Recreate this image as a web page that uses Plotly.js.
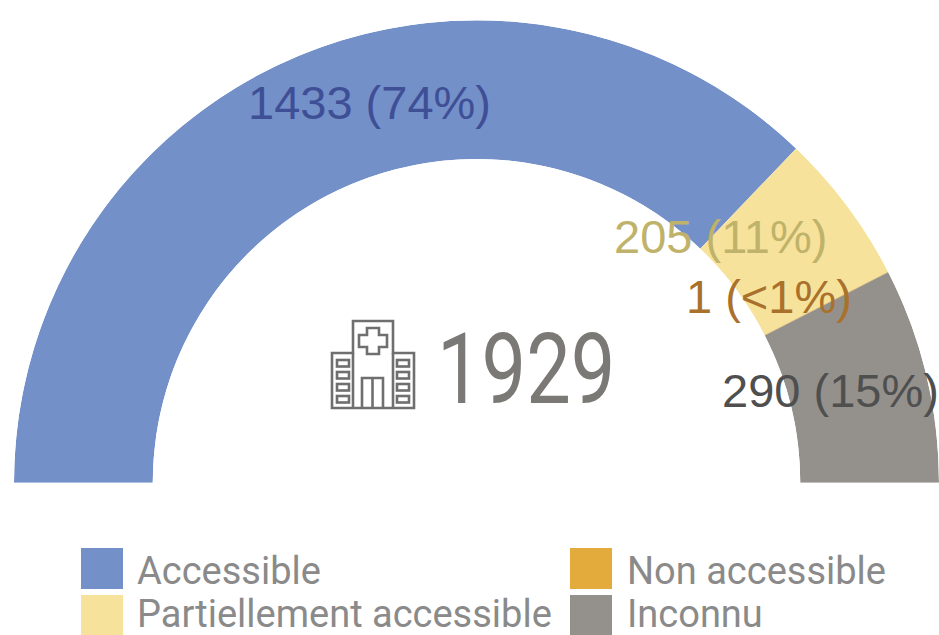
<!DOCTYPE html>
<html>
<head>
<meta charset="utf-8">
<script src="https://cdn.plot.ly/plotly-3.0.1.min.js"></script>
<style>html,body{margin:0;padding:0;background:#fff;overflow:hidden}</style>
</head>
<body>
<div id="chart" style="width:939px;height:635px"></div>
<script>
// Hospital accessibility, shown as a half-ring
const categories = ["Accessible", "Partiellement accessible", "Non accessible", "Inconnu"];
const counts = [1433, 205, 1, 290];
const shares = ["74%", "11%", "<1%", "15%"];
const sliceColors = ["#7490c9", "#f6e29b", "#e3ab3b", "#94918c"];
const labelColors = ["#3f4f96", "#bfb26a", "#a9712c", "#4f4f4f"];
const totalCount = 1929;

const W = 939, H = 635;
const px = x => x / W;
const py = y => 1 - y / H;

// Each category becomes one sector; sectors run clockwise from the left end of the half-ring
let used = 0;
const thetas = [], widths = [];
counts.forEach(c => {
  const w = c / totalCount * 180;
  thetas.push(180 - used - w / 2);
  widths.push(w);
  used += w;
});

const traces = categories.map((name, i) => ({
  type: "barpolar",
  name,
  r: [1],
  theta: [thetas[i]],
  width: [widths[i]],
  marker: {color: sliceColors[i], line: {width: 0}},
  hoverinfo: "skip",
  showlegend: false
}));

const labelSpots = [[247, 102], [613, 236], [685, 296], [721, 390]];
const labelNotes = categories.map((_, i) => ({
  xref: "paper", yref: "paper",
  x: px(labelSpots[i][0]), y: py(labelSpots[i][1]),
  xanchor: "left", yanchor: "middle", showarrow: false, borderpad: 0,
  text: counts[i] + " (" + shares[i].replace("<", "&lt;") + ")",
  font: {family: "Liberation Sans, Arial, sans-serif", size: 47, color: labelColors[i]}
}));

// Legend laid out in two columns
const legendSpots = [[81, 548, 136, 571], [81, 595, 136, 614], [570, 548, 626, 571], [570, 595, 626, 614]];
const legendNotes = categories.map((name, i) => ({
  xref: "paper", yref: "paper",
  x: px(legendSpots[i][2]), y: py(legendSpots[i][3]),
  xanchor: "left", yanchor: "middle", showarrow: false, borderpad: 0,
  text: name,
  font: {family: "Roboto, sans-serif", size: 38, color: "#8a8a8a"}
}));
const legendSwatches = categories.map((_, i) => ({
  type: "rect", xref: "paper", yref: "paper", line: {width: 0},
  fillcolor: sliceColors[i],
  x0: px(legendSpots[i][0]), x1: px(legendSpots[i][0] + 42),
  y0: py(legendSpots[i][1]), y1: py(legendSpots[i][1] + 41)
}));

// Hospital pictogram beside the total
const hospitalSvg =
  '<svg xmlns="http://www.w3.org/2000/svg" viewBox="330 318 86 92">' +
  '<g fill="none" stroke="#6f6f6f" stroke-width="2.6">' +
  '<path d="M332 408V353H353V321H393V353H414V408Z"/>' +
  '<path d="M353 353V408M393 353V408"/>' +
  '<path d="M362 408V378H383V408M372.5 378V408"/>' +
  '<path d="M367 328H379V335H387V347H379V354H367V347H359V335H367Z"/>' +
  [360, 372, 384, 396].map(y =>
    '<rect x="337" y="' + y + '" width="12" height="6.5"/>' +
    '<rect x="397" y="' + y + '" width="12" height="6.5"/>').join("") +
  '</g></svg>';

const layout = {
  width: W, height: H,
  margin: {l: 0, r: 0, t: 0, b: 0},
  paper_bgcolor: "#fff",
  showlegend: false,
  polar: {
    domain: {x: [px(14), 1], y: [py(483), py(20)]},
    sector: [0, 180],
    hole: 0.7,
    bgcolor: "rgba(0,0,0,0)",
    bargap: 0,
    radialaxis: {range: [0, 1], visible: false},
    angularaxis: {visible: false, direction: "counterclockwise", rotation: 0}
  },
  shapes: legendSwatches,
  images: [{
    source: "data:image/svg+xml;utf8," + encodeURIComponent(hospitalSvg),
    xref: "paper", yref: "paper",
    x: px(330), y: py(318), sizex: 86 / W, sizey: 92 / H,
    xanchor: "left", yanchor: "top", sizing: "stretch", layer: "above"
  }],
  annotations: labelNotes.concat(legendNotes, [{
    xref: "paper", yref: "paper",
    x: px(526), y: py(369), xanchor: "center", yanchor: "middle",
    showarrow: false, borderpad: 0,
    text: String(totalCount),
    font: {family: "Roboto, sans-serif", size: 98, color: "#7b7975"}
  }])
};

Plotly.newPlot("chart", traces, layout, {displayModeBar: false, staticPlot: true}).then(gd => {
  // The total is set in a condensed cut: narrow its digits around their own centre
  gd.querySelectorAll(".annotation-text").forEach(el => {
    if (el.textContent === String(totalCount)) {
      const b = el.getBBox();
      const cx = b.x + b.width / 2;
      el.setAttribute("transform", "translate(" + cx + " 0) scale(0.81 1) translate(" + (-cx) + " 0)");
    }
  });
});
</script>
</body>
</html>
